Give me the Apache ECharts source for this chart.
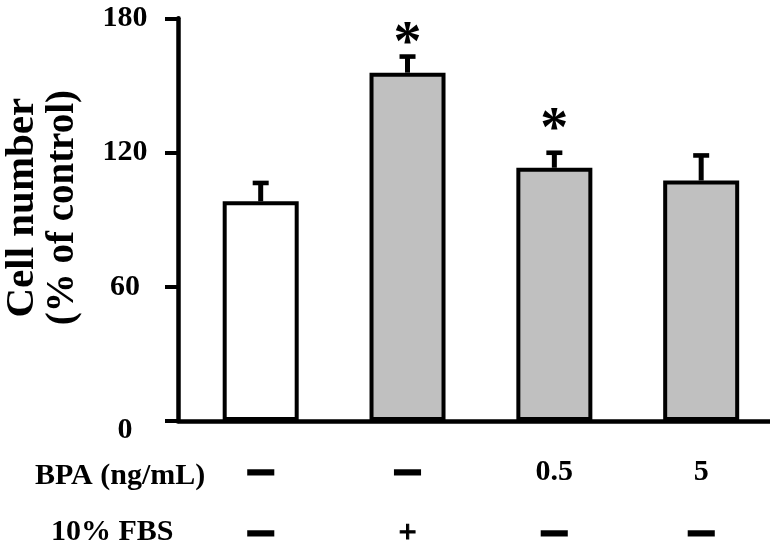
<!DOCTYPE html>
<html>
<head>
<meta charset="utf-8">
<script src="https://cdn.jsdelivr.net/npm/echarts@6/dist/echarts.min.js"></script>
<style>html,body{margin:0;padding:0;background:#fff;}#c{width:770px;height:552px;}</style>
</head>
<body>
<div id="c"></div>
<script>
// ---- data ----
const groups = [0, 1, 2, 3];
const bpaLabels = ['\u2014', '\u2014', '0.5', '5'];
const fbsLabels = ['\u2014', '+', '\u2014', '\u2014'];
const means = [98.2, 155.7, 113.2, 107.5];
const errs = [8.2, 7.2, 6.7, 11.2];
const sigMarks = ['', '*', '*', ''];
const sigHeights = [null, 172.4, 133.8, null];
const barColors = ['#ffffff', '#c0c0c0', '#c0c0c0', '#c0c0c0'];
const yTicks = [0, 60, 120, 180];
const rowTitles = ['BPA (ng/mL)', '10% FBS'];
const yTitle = ['Cell number', '(% of control)'];

const SERIF = 'Liberation Serif';
const chart = echarts.init(document.getElementById('c'));

function labelRich(s) {
  return /^[\u2014+]$/.test(s) ? (s === '+' ? '{p|+}' : '{d|' + s + '}') : '{t|' + s + '}';
}

chart.setOption({
  animation: false,
  backgroundColor: '#fff',
  grid: { left: 178, right: 0, top: 18.3, bottom: 131, containLabel: false, outerBoundsMode: 'none' },
  xAxis: {
    type: 'value',
    min: -0.5632,
    max: 3.4687,
    splitLine: { show: false },
    axisTick: { show: false },
    axisLine: { show: true, onZero: false, lineStyle: { color: '#000', width: 4.5 } },
    axisLabel: {
      customValues: groups,
      margin: 21,
      formatter: function (v) {
        const i = Math.round(v);
        return labelRich(bpaLabels[i]) + '\n' + labelRich(fbsLabels[i]);
      },
      rich: {
        t: { fontFamily: SERIF, fontWeight: 'bold', fontSize: 30, color: '#000', lineHeight: 61 },
        p: { fontFamily: SERIF, fontWeight: 'bold', fontSize: 32, color: '#000', lineHeight: 61, textBorderColor: '#000', textBorderWidth: 1 },
        d: { fontFamily: 'DejaVu Sans', fontWeight: 'bold', fontSize: 27, color: '#000', lineHeight: 61, textBorderColor: '#000', textBorderWidth: 3 }
      }
    }
  },
  yAxis: {
    type: 'value',
    min: 0,
    max: 180,
    interval: 60,
    splitLine: { show: false },
    axisLine: { show: true, onZero: false, lineStyle: { color: '#000', width: 4.5 } },
    axisTick: { show: true, inside: false, length: 13, lineStyle: { color: '#000', width: 4 } },
    axisLabel: {
      align: 'center',
      margin: 53,
      formatter: function (v) { return v === 0 ? '{z|' + v + '}' : '{n|' + v + '}'; },
      rich: {
        n: { fontFamily: SERIF, fontWeight: 'bold', fontSize: 30, color: '#000' },
        z: { fontFamily: SERIF, fontWeight: 'bold', fontSize: 30, color: '#000', padding: [18, 0, 0, 0] }
      }
    },
    name: '{a|' + yTitle[0] + '}\n{b|' + yTitle[1] + '}',
    nameLocation: 'middle',
    nameGap: 94.5,
    nameTextStyle: {
      fontFamily: SERIF, fontWeight: 'bold', fontSize: 40, color: '#000',
      lineHeight: 41, padding: [0, 0, 0, 24],
      rich: {
        a: { fontFamily: SERIF, fontWeight: 'bold', fontSize: 41, color: '#000', lineHeight: 41 },
        b: { fontFamily: SERIF, fontWeight: 'bold', fontSize: 39, color: '#000', lineHeight: 41 }
      }
    }
  },
  graphic: [
    { type: 'text', left: 121 - 86, top: 479 - 18, style: { text: rowTitles[0], font: 'bold 30px "Liberation Serif"', fill: '#000' } },
    { type: 'text', left: 112 - 61, top: 535 - 18, style: { text: rowTitles[1], font: 'bold 30px "Liberation Serif"', fill: '#000' } }
  ],
  series: [
    {
      type: 'bar',
      barWidth: 76,
      data: groups.map((g, i) => ({
        value: [g, means[i]],
        itemStyle: { color: barColors[i], borderColor: '#000', borderWidth: 4 }
      })),
      z: 2
    },
    {
      type: 'custom',
      z: 3,
      data: groups.map((g, i) => [g, means[i], means[i] + errs[i]]),
      renderItem: function (params, api) {
        const base = api.coord([api.value(0), api.value(1)]);
        const top = api.coord([api.value(0), api.value(2)]);
        return {
          type: 'group',
          children: [
            { type: 'line', shape: { x1: base[0], y1: base[1], x2: top[0], y2: top[1] }, style: { stroke: '#000', lineWidth: 5 } },
            { type: 'rect', shape: { x: top[0] - 8, y: top[1] - 2.3, width: 16, height: 4.6 }, style: { fill: '#000' } }
          ]
        };
      }
    },
    {
      type: 'custom',
      z: 4,
      data: groups.map((g, i) => [g, sigHeights[i] == null ? 0 : sigHeights[i], i]),
      renderItem: function (params, api) {
        const i = api.value(2);
        if (!sigMarks[i]) return null;
        const p = api.coord([api.value(0), api.value(1)]);
        return {
          type: 'text',
          x: p[0], y: p[1] + 10,
          style: { text: sigMarks[i], font: 'bold 56px "Liberation Serif"', fill: '#000', textAlign: 'center', textVerticalAlign: 'middle' }
        };
      }
    }
  ]
});
</script>
</body>
</html>
